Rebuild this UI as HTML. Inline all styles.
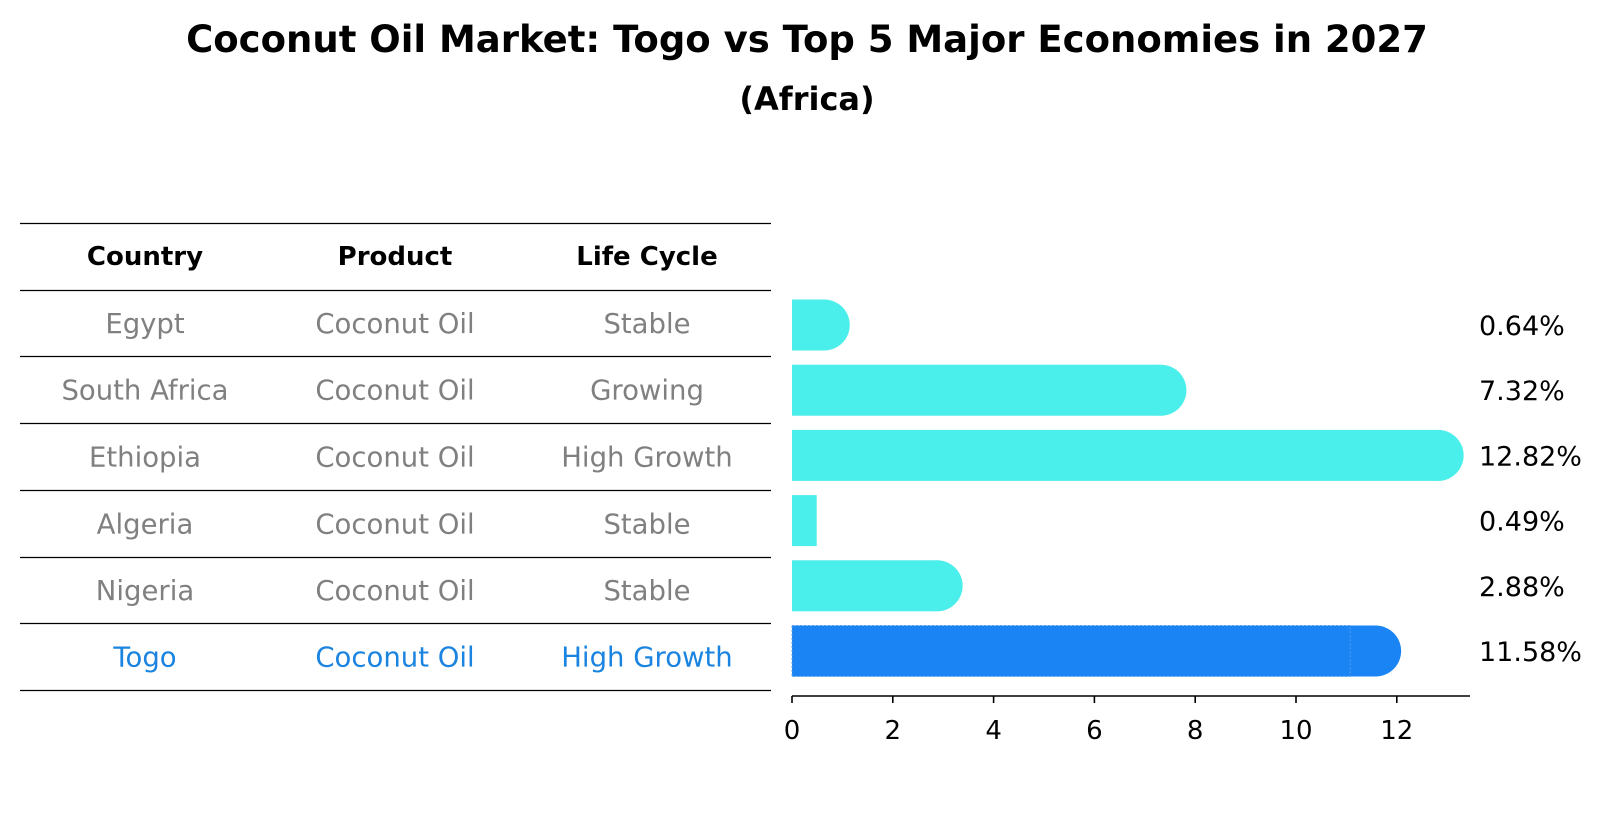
<!DOCTYPE html>
<html><head><meta charset="utf-8"><style>
body{margin:0;background:#fff;}
svg{display:block;font-family:"DejaVu Sans","Liberation Sans",sans-serif;}
</style></head><body>
<svg id="chart" width="1604" height="823" viewBox="0 0 1604 823">
<text x="807" y="52" text-anchor="middle" font-size="37" font-weight="bold">Coconut Oil Market: Togo vs Top 5 Major Economies in 2027</text>
<text x="807" y="110" text-anchor="middle" font-size="32" font-weight="bold">(Africa)</text>
<g id="table"></g>
<g id="bars"></g>
</svg>
<script>
const countries=["Egypt","South Africa","Ethiopia","Algeria","Nigeria","Togo"];
const products=["Coconut Oil","Coconut Oil","Coconut Oil","Coconut Oil","Coconut Oil","Coconut Oil"];
const lifecycles=["Stable","Growing","High Growth","Stable","Stable","High Growth"];
const values=[0.64,7.32,12.82,0.49,2.88,11.58];
const ticks=[0,2,4,6,8,10,12];
const NS="http://www.w3.org/2000/svg";
function mk(t,a,p){const e=document.createElementNS(NS,t);for(const k in a)e.setAttribute(k,a[k]);p.appendChild(e);return e;}
const tbl=document.getElementById('table'),bars=document.getElementById('bars');
const lineYs=[223,290,356,423,490,557,623,690];
const colX=[145,395,647];
const hi=countries.length-1;
lineYs.forEach((y,i)=>{const l=mk('line',{x1:20,x2:771,y1:y+0.5,y2:y+0.5,stroke:'#000','stroke-width':1.2},tbl);

});
["Country","Product","Life Cycle"].forEach((h,i)=>{const t=mk('text',{x:colX[i],y:265,'text-anchor':'middle','font-size':26,'font-weight':'bold'},tbl);t.textContent=h;

});
countries.forEach((c,r)=>{const cy=(lineYs[r+1]+lineYs[r+2])/2+10;const col=r===hi?'#1a84e0':'#808080';
[c,products[r],lifecycles[r]].forEach((v,i)=>{const t=mk('text',{x:colX[i],y:cy,'text-anchor':'middle','font-size':27.5,fill:col},tbl);t.textContent=v;

});});
const x0=792,sc=50.4,axisY=696,barH=51;
const X=v=>x0+v*sc;
const Y=i=>325+i*65.2;
const ax=mk('line',{x1:x0,x2:1470,y1:axisY,y2:axisY,stroke:'#000','stroke-width':1.6},bars);


ticks.forEach(t=>{const l=mk('line',{x1:X(t),x2:X(t),y1:axisY,y2:axisY+7,stroke:'#000','stroke-width':1.6},bars);


const tx=mk('text',{x:X(t),y:axisY+43,'text-anchor':'middle','font-size':26},bars);tx.textContent=t;

});
values.forEach((v,i)=>{const col=i===hi?'#1a84f5':'#4aeeea';const cy=Y(i);
const g=mk('g',{},bars);


mk('rect',{x:x0,y:cy-barH/2,width:v*sc,height:barH,fill:col},g);
if(v>0.5)mk('circle',{cx:X(v),cy:cy,r:barH/2,fill:col},g);
if(i===hi)mk('rect',{x:x0,y:cy-barH/2,width:v*sc-barH/2,height:barH,fill:'none',stroke:'#5aa0e8','stroke-width':1,'stroke-dasharray':'2,2'},g);
const t=mk('text',{x:1479,y:cy+10,'font-size':27},bars);t.textContent=v.toFixed(2)+'%';

});
</script>
</body></html>
